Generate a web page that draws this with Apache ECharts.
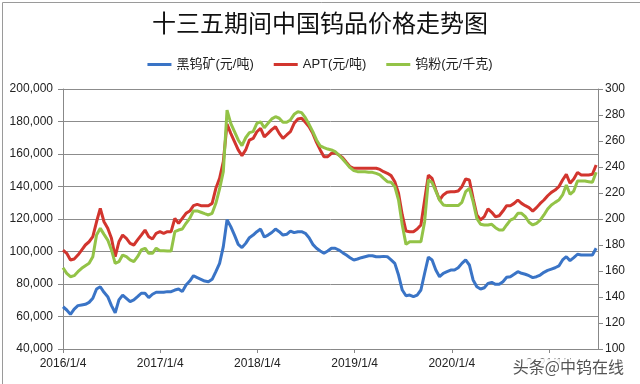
<!DOCTYPE html>
<html>
<head>
<meta charset="utf-8">
<script src="https://cdn.jsdelivr.net/npm/echarts@6/dist/echarts.min.js"></script>
<style>
html,body{margin:0;padding:0;background:#fff;}
#c{width:640px;height:384px;}
</style>
</head>
<body>
<div id="c"></div>
<script>
// Biweekly samples starting 2016/1/4 (x = index * 14 days)
const startLabel = '2016/1/4';
const stepDays = 14;
const seriesNames = ['黑钨矿(元/吨)', 'APT(元/吨)', '钨粉(元/千克)'];
const yearTicks = ['2016/1/4', '2017/1/4', '2018/1/4', '2019/1/4', '2020/1/4', '2021/1/4'];

const wolframite = [66000,64000,61300,64600,66700,67100,67500,68700,71200,76900,78300,74900,72200,66700,62300,70200,73200,71200,69100,70200,72200,74300,74300,71600,73700,74900,74900,74900,75300,75300,76300,76900,75300,79400,81800,85100,83900,82900,81800,81400,82900,87600,92700,103000,119500,115300,110100,104400,102400,105000,108500,110100,112200,113800,108900,110100,111700,113800,112200,110100,110600,112600,111600,112200,112200,111200,108500,104400,102000,100300,98900,100300,102000,102000,100900,99300,97800,96200,94800,95400,96200,96800,97400,97400,96800,96800,97000,96800,94800,92700,85500,76300,72800,73200,72200,73200,76300,86600,96500,94800,88600,84500,86600,87600,88600,88600,90000,92700,94800,91700,82500,78300,76900,77700,80400,81000,79800,79800,81400,84100,84500,86000,87600,86600,86000,85100,83900,84500,85500,87200,88400,89200,90000,91100,94800,96800,94400,96200,98300,97800,97800,97800,97800,102000];

const apt = [100900,98900,94800,95400,97800,100900,104000,106000,109100,118300,126600,118300,114300,108100,96800,106000,110100,108100,105000,104000,107100,110100,113200,109100,107700,111200,112200,111200,112200,112200,120400,117300,120400,123500,124900,128200,129000,128200,128200,128200,129600,138900,145000,155300,178500,172700,167600,162500,159000,162500,168600,169600,173700,175800,170600,172700,175000,176800,172700,169600,171700,173700,178900,181500,182000,179500,176800,172700,167200,162500,158300,158300,160400,160800,159400,157700,154900,152200,151200,151200,151200,151200,151200,151200,151200,150500,149100,148100,146700,142900,135800,122500,112600,112200,112200,113800,116300,131700,147000,145000,137800,131700,134800,136400,136800,136800,137200,139900,144600,144000,132700,122500,119400,121400,126200,124100,121400,122000,124900,128200,128200,129600,131700,129600,128200,127000,124900,127000,129600,131700,134300,136400,137800,139900,144000,147500,142000,144600,148700,147100,147100,147100,147500,153200];

const powder = [162.5,158.2,155.6,156.4,159.5,162.1,164.1,165.9,171.0,187.7,192.8,188.2,183.8,176.2,165.9,167.2,172.3,171.0,168.5,167.2,171.0,176.2,177.5,173.6,173.6,177.5,175.6,175.6,175.4,175.4,190.2,191.5,192.3,196.7,200.5,206.2,206.2,205.2,204.1,203.1,204.4,212.1,223.1,236.4,283.8,273.6,267.2,260.8,256.4,262.5,266.4,267.2,273.6,274.8,270.2,273.6,277.0,278.7,277.5,274.4,274.4,276.2,280.5,282.5,281.8,277.9,272.8,267.2,260.8,256.2,254.9,253.8,253.1,251.8,249.2,246.2,242.8,239.5,237.2,236.4,236.4,236.4,235.9,235.9,235.1,234.0,231.3,228.7,228.2,224.9,214.6,195.4,180.5,182.5,182.5,182.5,182.5,197.9,230.0,228.0,221.5,214.6,210.8,210.3,210.3,210.3,210.3,212.8,221.0,223.6,213.3,200.5,195.9,195.4,195.4,195.9,193.3,191.5,191.5,195.4,199.2,200.5,204.4,204.4,201.8,197.5,195.4,196.7,199.2,203.1,207.7,210.8,212.8,214.6,218.5,226.2,219.0,221.5,229.2,229.2,229.2,228.7,228.2,235.9];

const colors = ['#3a74c6', '#d2352e', '#93c347'];
const toPairs = arr => arr.map((v, i) => [i * stepDays, v]);
const FONT = 'Liberation Sans, Noto Sans CJK SC, sans-serif';

const chart = echarts.init(document.getElementById('c'), null, {renderer: 'canvas'});
chart.setOption({
  animation: false,
  backgroundColor: '#fff',
  title: {
    text: '十三五期间中国钨品价格走势图',
    left: 'center', top: 6,
    textStyle: {fontFamily: 'Noto Sans CJK SC', fontSize: 24, fontWeight: 'normal', color: '#111'}
  },
  legend: {
    top: 53, left: 'center', itemGap: 20, itemWidth: 24, itemHeight: 3,
    textStyle: {fontFamily: FONT, fontSize: 13, color: '#222'},
    data: seriesNames.map((n, k) => ({name: n, icon: 'rect', itemStyle: {color: colors[k]}}))
  },
  grid: {left: 63, right: 42, top: 89, bottom: 35},
  xAxis: {
    type: 'value', min: 0, max: 2009, interval: 365,
    axisLine: {show: true, lineStyle: {color: '#888'}},
    axisTick: {show: true, length: 4, lineStyle: {color: '#888'}},
    splitLine: {show: false},
    axisLabel: {
      fontFamily: FONT, fontSize: 12, color: '#222', margin: 9, showMaxLabel: false,
      formatter: v => (v % 365 === 0 && yearTicks[v / 365]) ? yearTicks[v / 365] : ''
    }
  },
  yAxis: [{
    type: 'value', min: 40000, max: 200000, interval: 20000,
    axisLine: {show: true, lineStyle: {color: '#888'}},
    axisTick: {show: true, length: 5, lineStyle: {color: '#888'}},
    splitLine: {show: true, lineStyle: {color: '#8c8c8c', width: 1}},
    axisLabel: {fontFamily: FONT, fontSize: 12, color: '#222', margin: 10,
      formatter: v => v.toLocaleString('en-US')}
  }, {
    type: 'value', min: 100, max: 300, interval: 20, position: 'right',
    axisLine: {show: true, lineStyle: {color: '#888'}},
    axisTick: {show: true, length: 5, lineStyle: {color: '#888'}},
    splitLine: {show: false},
    axisLabel: {fontFamily: FONT, fontSize: 12, color: '#222', margin: 7}
  }],
  series: [
    {name: seriesNames[0], type: 'line', yAxisIndex: 0, data: toPairs(wolframite), showSymbol: false, lineStyle: {width: 3, color: colors[0]}, itemStyle: {color: colors[0]}, z: 3},
    {name: seriesNames[1], type: 'line', yAxisIndex: 0, data: toPairs(apt), showSymbol: false, lineStyle: {width: 3, color: colors[1]}, itemStyle: {color: colors[1]}, z: 2},
    {name: seriesNames[2], type: 'line', yAxisIndex: 1, data: toPairs(powder), showSymbol: false, lineStyle: {width: 3, color: colors[2]}, itemStyle: {color: colors[2]}, z: 4}
  ],
  graphic: [
    {type: 'rect', left: 0, top: 0, shape: {x: 0.5, y: 0.5, width: 639, height: 383}, style: {fill: 'none', stroke: '#9a9a9a', lineWidth: 1}, silent: true, z: 100},
    {type: 'text', right: 14, bottom: 8, style: {text: '头条@中钨在线', fontFamily: 'Noto Sans CJK SC', fontSize: 16, fill: '#555', stroke: '#fff', lineWidth: 3, backgroundColor: 'rgba(255,255,255,0.85)', padding: [0, 2]}, z: 101}
  ]
});
</script>
</body>
</html>
